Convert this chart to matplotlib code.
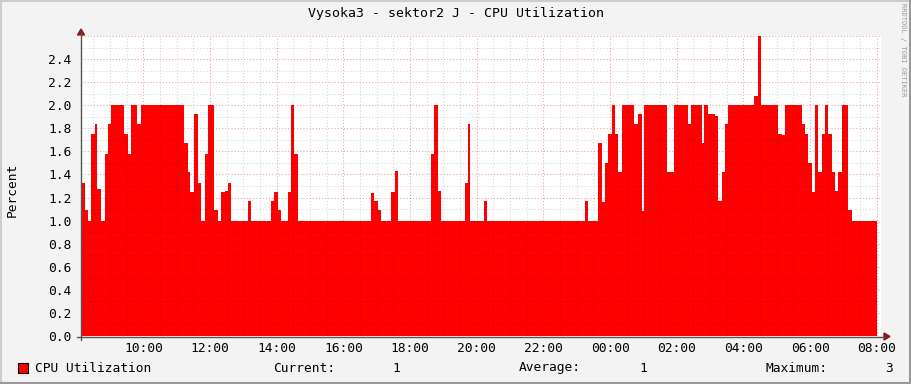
import matplotlib
matplotlib.use("Agg")
import matplotlib.pyplot as plt
from matplotlib.patches import Rectangle, Polygon
import numpy as np

# ---- data: start time (hours, 24+ = next day) and CPU value of each step ----
seg_start = [8.13, 8.25, 8.33, 8.43, 8.55, 8.62, 8.72, 8.85, 8.95, 9.02,
             9.42, 9.53, 9.63, 9.82, 9.93, 11.23, 11.33, 11.40, 11.53, 11.63,
             11.73, 11.85, 11.93, 12.13, 12.23, 12.33, 12.45, 12.55, 12.62,
             13.13, 13.22, 13.82, 13.93, 14.03, 14.12, 14.33, 14.43, 14.53, 14.63,
             16.82, 16.93, 17.03, 17.12, 17.42, 17.55, 17.63,
             18.62, 18.73, 18.83, 18.92, 19.64, 19.73, 19.81, 20.23, 20.32,
             23.25, 23.33, 23.63, 23.75, 23.85, 23.95, 24.05, 24.15, 24.23, 24.35,
             24.73, 24.83, 24.95, 25.03, 25.72, 25.93, 26.33, 26.43, 26.75, 26.83,
             26.93, 27.15, 27.23, 27.35, 27.45, 27.55, 28.33, 28.43, 28.53, 29.03,
             29.15, 29.25, 29.75, 29.85, 29.95, 30.05, 30.15, 30.23, 30.35, 30.45,
             30.53, 30.67, 30.75, 30.85, 30.97, 31.13, 31.25]
seg_value = [1.33, 1.09, 1.00, 1.75, 1.84, 1.27, 1.00, 1.58, 1.84, 2.00,
             1.75, 1.58, 2.00, 1.84, 2.00, 1.67, 1.42, 1.25, 1.92, 1.33,
             1.00, 1.58, 2.00, 1.09, 1.00, 1.25, 1.26, 1.33, 1.00,
             1.17, 1.00, 1.17, 1.25, 1.09, 1.00, 1.25, 2.00, 1.58, 1.00,
             1.24, 1.17, 1.09, 1.00, 1.25, 1.43, 1.00,
             1.58, 2.00, 1.26, 1.00, 1.33, 1.84, 1.00, 1.17, 1.00,
             1.17, 1.00, 1.67, 1.16, 1.50, 1.75, 2.00, 1.75, 1.42, 2.00,
             1.84, 1.92, 1.08, 2.00, 1.42, 2.00, 1.84, 2.00, 1.67, 2.00,
             1.92, 1.91, 1.17, 1.42, 1.84, 2.00, 2.08, 2.60, 2.00, 1.75,
             1.74, 2.00, 1.84, 1.75, 1.50, 1.25, 2.00, 1.42, 1.75, 2.00,
             1.75, 1.42, 1.26, 1.42, 2.00, 1.09, 1.00]
data_end = 32.0

x_tick_hours = [10, 12, 14, 16, 18, 20, 22, 24, 26, 28, 30, 32]
x_tick_labels = ["10:00", "12:00", "14:00", "16:00", "18:00", "20:00",
                 "22:00", "00:00", "02:00", "04:00", "06:00", "08:00"]
y_ticks = [0.0, 0.2, 0.4, 0.6, 0.8, 1.0, 1.2, 1.4, 1.6, 1.8, 2.0, 2.2, 2.4]

title = "Vysoka3 - sektor2 J - CPU Utilization"
legend_name = "CPU Utilization"
stat_current, stat_average, stat_maximum = "1", "1", "3"

# ---- figure ----
W, H = 911, 384
fig = plt.figure(figsize=(W / 100, H / 100), dpi=100)
fig.patch.set_facecolor("#F3F3F3")
mono = "DejaVu Sans Mono"

# canvas pixel geometry
cx0, cx1, cy0, cy1 = 81, 881, 36, 336
ax = fig.add_axes([cx0 / W, 1 - cy1 / H, (cx1 - cx0) / W, (cy1 - cy0) / H])
ax.set_facecolor("white")
xmin = 32.0 - (876.7 - cx0) / 33.333
ax.set_xlim(xmin, xmin + (cx1 - cx0) / 33.333)
ax.set_ylim(0, 2.6)

xs = np.array(seg_start + [data_end])
ys = np.array(seg_value + [seg_value[-1]])
ax.fill_between(xs, 0, ys, step="post", color="#FF0000", linewidth=0, zorder=1)

# grid
for h in np.arange(8.5, 32.2, 0.5):
    if abs(h / 2 - round(h / 2)) < 1e-6:
        continue
    ax.axvline(h, color=(0, 0, 0, 0.17), lw=0.75, ls=(0, (1, 2)), zorder=2)
for v in np.arange(0.1, 2.65, 0.2):
    ax.axhline(v, color=(0, 0, 0, 0.17), lw=0.75, ls=(0, (1, 2)), zorder=2)
for h in x_tick_hours:
    ax.axvline(h, color=(0.85, 0, 0, 0.38), lw=0.75, ls=(0, (1, 2)), zorder=2)
for v in y_ticks[1:] + [2.6]:
    ax.axhline(v, color=(0.85, 0, 0, 0.38), lw=0.75, ls=(0, (1, 2)), zorder=2)

for s in ax.spines.values():
    s.set_visible(False)
ax.set_xticks(x_tick_hours)
ax.set_xticklabels(x_tick_labels, fontfamily=mono, fontsize=9.3, color="#000000")
ax.set_yticks(y_ticks)
ax.set_yticklabels([f"{v:.1f}" for v in y_ticks], fontfamily=mono, fontsize=9.3, color="#000000")
ax.tick_params(length=0, pad=4.5)
ax.tick_params(axis="y", pad=7)

# axes lines and arrows (figure pixel coords)
def px(x, y):
    return (x / W, 1 - y / H)

fig.add_artist(plt.Line2D([77 / W, 884 / W], [1 - 336.5 / H] * 2, color="#555555", lw=1.0))
fig.add_artist(plt.Line2D([81 / W] * 2, [1 - 340 / H, 1 - 33 / H], color="#555555", lw=1.0))
fig.add_artist(Polygon([px(884, 333), px(890, 336.5), px(884, 340)], closed=True,
                       color="#8B1A1A", transform=fig.transFigure))
fig.add_artist(Polygon([px(77.5, 35), px(81, 29), px(84.5, 35)], closed=True,
                       color="#8B1A1A", transform=fig.transFigure))

# texts
fig.text(456 / W, 1 - 14 / H, title, ha="center", va="center", fontfamily=mono,
         fontsize=9.5, color="#000000")
fig.text(12 / W, 1 - 190 / H, "Percent", ha="center", va="center", rotation=90,
         fontfamily=mono, fontsize=9.3, color="#000000")
fig.text(903 / W, 1 - 3 / H, "RRDTOOL / TOBI OETIKER", ha="center", va="top",
         rotation=270, fontfamily=mono, fontsize=5.0, color="#999999")

# legend
ly = 1 - 368 / H
fig.add_artist(Rectangle(px(17.5, 373), 10 / W, 10 / H, facecolor="#FF0000",
                         edgecolor="#000000", lw=0.8, transform=fig.transFigure))
fig.text(35 / W, ly, legend_name, ha="left", va="center", fontfamily=mono, fontsize=9.3)
fig.text(273 / W, ly, "Current:", ha="left", va="center", fontfamily=mono, fontsize=9.3)
fig.text(400 / W, ly, stat_current, ha="right", va="center", fontfamily=mono, fontsize=9.3)
fig.text(519 / W, ly, "Average:", ha="left", va="center", fontfamily=mono, fontsize=9.3)
fig.text(647 / W, ly, stat_average, ha="right", va="center", fontfamily=mono, fontsize=9.3)
fig.text(766 / W, ly, "Maximum:", ha="left", va="center", fontfamily=mono, fontsize=9.3)
fig.text(893 / W, ly, stat_maximum, ha="right", va="center", fontfamily=mono, fontsize=9.3)

# 3D frame
fig.add_artist(plt.Line2D([0, 1], [1 - 1 / H] * 2, color="#CCCCCC", lw=1.5))
fig.add_artist(plt.Line2D([1 / W] * 2, [0, 1], color="#CCCCCC", lw=1.5))
fig.add_artist(plt.Line2D([0, 1], [1.5 / H] * 2, color="#999999", lw=2.2))
fig.add_artist(plt.Line2D([1 - 1.5 / W] * 2, [0, 1], color="#999999", lw=2.2))

fig.savefig("out.png", dpi=100, facecolor=fig.get_facecolor())
